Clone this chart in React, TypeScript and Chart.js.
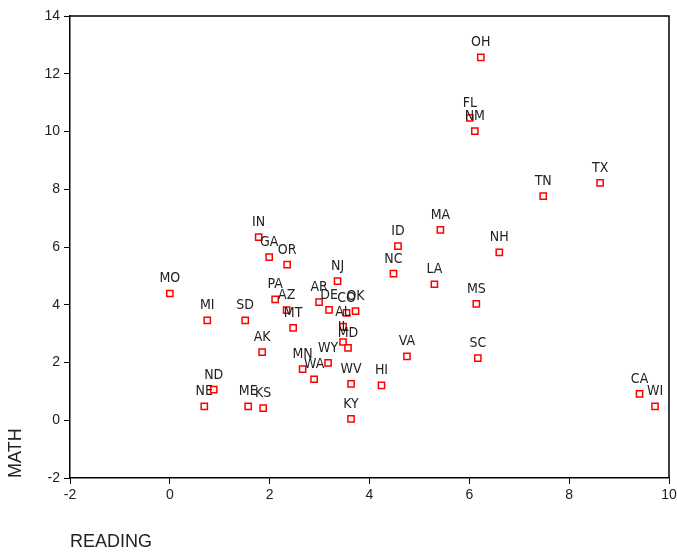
import React, { useEffect, useRef } from "react";
import { Chart, registerables } from "chart.js";

Chart.register(...registerables);

const states = [
  "OH", "FL", "NM", "TN", "TX", "MA", "ID", "NC", "NH", "LA", "MS", "VA", "SC", "HI", "CA", "WI",
  "IN", "GA", "OR", "MO", "NJ", "PA", "AZ", "AR", "DE", "CO", "OK", "AL", "IL", "MD", "MI", "SD",
  "MT", "AK", "MN", "WY", "WA", "WV", "KY", "ND", "NE", "ME", "KS",
];
const reading = [
  6.23, 6.01, 6.11, 7.48, 8.62, 5.42, 4.57, 4.48, 6.6, 5.3, 6.14, 4.75, 6.17, 4.24, 9.41, 9.72,
  1.78, 1.99, 2.35, 0.0, 3.36, 2.11, 2.34, 2.99, 3.19, 3.54, 3.72, 3.47, 3.47, 3.57, 0.75, 1.51,
  2.47, 1.85, 2.66, 3.17, 2.89, 3.63, 3.63, 0.88, 0.69, 1.57, 1.87,
];
const math = [
  12.57, 10.47, 10.01, 7.76, 8.22, 6.59, 6.03, 5.08, 5.81, 4.71, 4.03, 2.21, 2.15, 1.21, 0.91, 0.48,
  6.34, 5.65, 5.39, 4.39, 4.82, 4.19, 3.81, 4.09, 3.82, 3.72, 3.78, 3.24, 2.71, 2.51, 3.46, 3.46,
  3.2, 2.36, 1.77, 1.99, 1.42, 1.26, 0.05, 1.06, 0.48, 0.48, 0.42,
];
const xTicks = [-2, 0, 2, 4, 6, 8, 10];
const yTicks = [-2, 0, 2, 4, 6, 8, 10, 12, 14];

const pointLabels = {
  id: "pointLabels",
  afterDatasetsDraw(chart: any) {
    const ctx = chart.ctx;
    const meta = chart.getDatasetMeta(0);
    ctx.save();
    ctx.font = "14px 'DejaVu Sans Condensed', 'DejaVu Sans'";
    ctx.fillStyle = "#222";
    ctx.textAlign = "center";
    ctx.textBaseline = "alphabetic";
    meta.data.forEach((el: any, i: number) => {
      ctx.fillText(states[i], el.x, el.y - 11);
    });
    ctx.restore();
  },
};

const frame = {
  id: "frame",
  afterDraw(chart: any) {
    const { ctx, chartArea } = chart;
    ctx.save();
    ctx.strokeStyle = "#000";
    ctx.lineWidth = 1.5;
    ctx.beginPath();
    ctx.moveTo(chartArea.left, chartArea.top);
    ctx.lineTo(chartArea.right, chartArea.top);
    ctx.lineTo(chartArea.right, chartArea.bottom);
    ctx.stroke();
    ctx.restore();
  },
};

export default function App() {
  const ref = useRef<HTMLCanvasElement>(null);
  useEffect(() => {
    if (!ref.current) return;
    const tickFont = { family: "'Liberation Sans', Arial, sans-serif", size: 14 };
    const titleFont = { family: "'Liberation Sans', Arial, sans-serif", size: 18 };
    const chart = new Chart(ref.current, {
      type: "scatter",
      data: {
        datasets: [
          {
            data: reading.map((r, i) => ({ x: r, y: math[i] })),
            pointStyle: "rect",
            pointRadius: 4.4,
            pointBorderWidth: 1.5,
            borderColor: "#ff0000",
            backgroundColor: "#ffffff",
          },
        ],
      },
      options: {
        animation: false,
        responsive: false,
        maintainAspectRatio: false,
        layout: { padding: { top: 16, right: 8, left: 0, bottom: 0 } },
        plugins: { legend: { display: false }, tooltip: { enabled: false } },
        scales: {
          x: {
            type: "linear",
            min: -2,
            max: 10,
            afterBuildTicks: (s: any) => {
              s.ticks = xTicks.map((v) => ({ value: v }));
            },
            afterFit: (s: any) => {
              s.height = 78;
              s.paddingLeft = 0;
              s.paddingRight = 0;
            },
            ticks: { font: tickFont, color: "#222", padding: 3, maxRotation: 0 },
            grid: { display: true, drawOnChartArea: false, drawTicks: true, tickLength: 6, color: "#000", lineWidth: 1 },
            border: { display: true, color: "#000", width: 1.5 },
            title: { display: true, text: "READING", align: "start", font: titleFont, color: "#222", padding: { top: 0, bottom: 3 } },
          },
          y: {
            type: "linear",
            min: -2,
            max: 14,
            afterBuildTicks: (s: any) => {
              s.ticks = yTicks.map((v) => ({ value: v }));
            },
            afterFit: (s: any) => {
              s.width = 70;
              s.paddingTop = 0;
              s.paddingBottom = 0;
            },
            ticks: { font: tickFont, color: "#222", padding: 4 },
            grid: { display: true, drawOnChartArea: false, drawTicks: true, tickLength: 6, color: "#000", lineWidth: 1 },
            border: { display: true, color: "#000", width: 1.5 },
            title: { display: true, text: "MATH", align: "start", font: titleFont, color: "#222", padding: { top: 5, bottom: 0 } },
          },
        },
      },
      plugins: [pointLabels, frame],
    } as any);
    return () => chart.destroy();
  }, []);
  return (
    <div style={{ position: "fixed", left: 0, top: 0, width: 677, height: 556, background: "#fff" }}>
      <canvas ref={ref} width={677} height={556} style={{ display: "block" }} />
    </div>
  );
}
